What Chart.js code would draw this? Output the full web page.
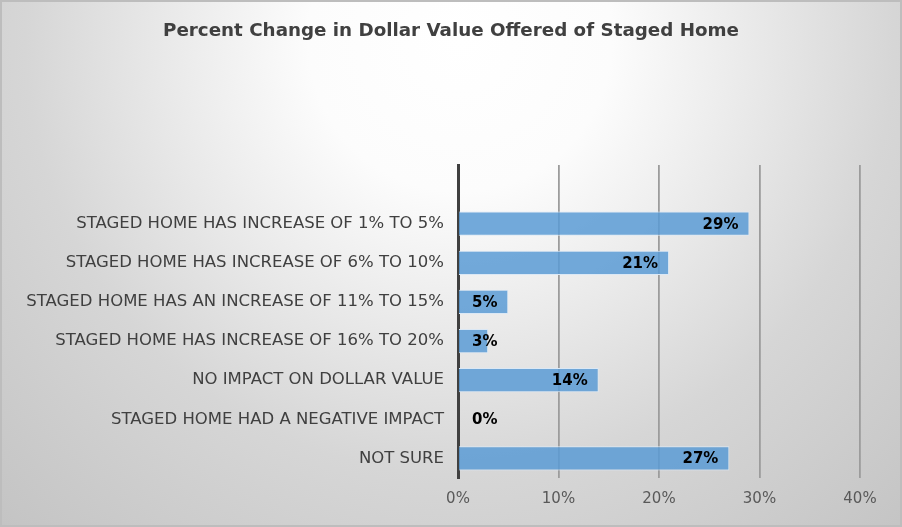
<!DOCTYPE html>
<html>
<head>
<meta charset="utf-8">
<script src="https://cdn.jsdelivr.net/npm/chart.js@4/dist/chart.umd.min.js"></script>
<style>
  html, body { margin: 0; padding: 0; background: #ffffff; }
  #wrap { width: 902px; height: 527px; position: relative; }
</style>
</head>
<body>
<div id="wrap"><canvas id="c" width="902" height="527"></canvas></div>
<script>
const categories = [
  "",
  "STAGED HOME HAS INCREASE OF 1% TO 5%",
  "STAGED HOME HAS INCREASE OF 6% TO 10%",
  "STAGED HOME HAS AN INCREASE OF 11% TO 15%",
  "STAGED HOME HAS INCREASE OF 16% TO 20%",
  "NO IMPACT ON DOLLAR VALUE",
  "STAGED HOME HAD A NEGATIVE IMPACT",
  "NOT SURE"
];
const values = [null, 29, 21, 5, 3, 14, 0, 27];
const xTicks = [0, 10, 20, 30, 40];
const titleText = "Percent Change in Dollar Value Offered of Staged Home";

const FONT = "'DejaVu Sans', sans-serif";

const bgPlugin = {
  id: 'bg',
  beforeDraw(chart) {
    const ctx = chart.ctx;
    const w = chart.width, h = chart.height;
    ctx.save();
    const g = ctx.createRadialGradient(460, 40, 0, 460, 40, 690);
    g.addColorStop(0, '#ffffff');
    g.addColorStop(0.22, '#fcfcfc');
    g.addColorStop(0.45, '#e7e7e7');
    g.addColorStop(0.63, '#d6d6d6');
    g.addColorStop(1, '#c2c2c2');
    ctx.fillStyle = g;
    ctx.fillRect(0, 0, w, h);
    ctx.strokeStyle = '#bdbdbd';
    ctx.lineWidth = 2;
    ctx.strokeRect(1, 1, w - 2, h - 2);
    // title
    ctx.font = "bold 18.3px " + FONT;
    ctx.fillStyle = '#404040';
    ctx.textAlign = 'center';
    ctx.textBaseline = 'middle';
    ctx.fillText(titleText, 451, 31);
    ctx.restore();
  }
};

const labelPlugin = {
  id: 'vlabels',
  afterDatasetsDraw(chart) {
    const ctx = chart.ctx;
    const meta = chart.getDatasetMeta(0);
    const xs = chart.scales.x;
    ctx.save();
    ctx.font = "bold 15px " + FONT;
    ctx.fillStyle = '#000000';
    ctx.textBaseline = 'middle';
    ctx.textAlign = 'left';
    meta.data.forEach((bar, i) => {
      const v = values[i];
      if (v === null || v === undefined) return;
      const txt = v + '%';
      const tw = ctx.measureText(txt).width;
      let x = bar.x - 11 - tw;
      const minX = xs.getPixelForValue(0) + 14;
      if (x < minX) x = minX;
      ctx.fillText(txt, x, bar.y + 1);
    });
    ctx.restore();
  }
};

new Chart(document.getElementById('c'), {
  type: 'bar',
  data: {
    labels: categories,
    datasets: [{
      data: values,
      backgroundColor: 'rgba(91,155,213,0.85)',
      borderColor: '#dbe8f5',
      borderWidth: 1,
      categoryPercentage: 1,
      barPercentage: 0.62
    }]
  },
  options: {
    indexAxis: 'y',
    responsive: false,
    animation: false,
    layout: { padding: { left: 0, right: 42, top: 165, bottom: 0 } },
    plugins: {
      legend: { display: false },
      tooltip: { enabled: false },
      title: { display: false }
    },
    scales: {
      x: {
        min: 0,
        max: 40,
        afterBuildTicks(scale) { scale.ticks = xTicks.map(v => ({ value: v })); },
        afterFit(scale) { scale.height = 49; },
        ticks: {
          color: '#595959',
          font: { family: FONT, size: 15 },
          padding: 12,
          callback: v => v + '%'
        },
        grid: { color: '#9c9c9c', lineWidth: 1.8, drawTicks: false },
        border: { display: false }
      },
      y: {
        afterFit(scale) { scale.width = 458; },
        ticks: {
          color: '#404040',
          font: { family: FONT, size: 16.5 },
          padding: 14,
          autoSkip: false
        },
        grid: { display: false, drawTicks: false },
        border: { display: true, color: '#404040', width: 3 }
      }
    }
  },
  plugins: [bgPlugin, labelPlugin]
});
</script>
</body>
</html>
